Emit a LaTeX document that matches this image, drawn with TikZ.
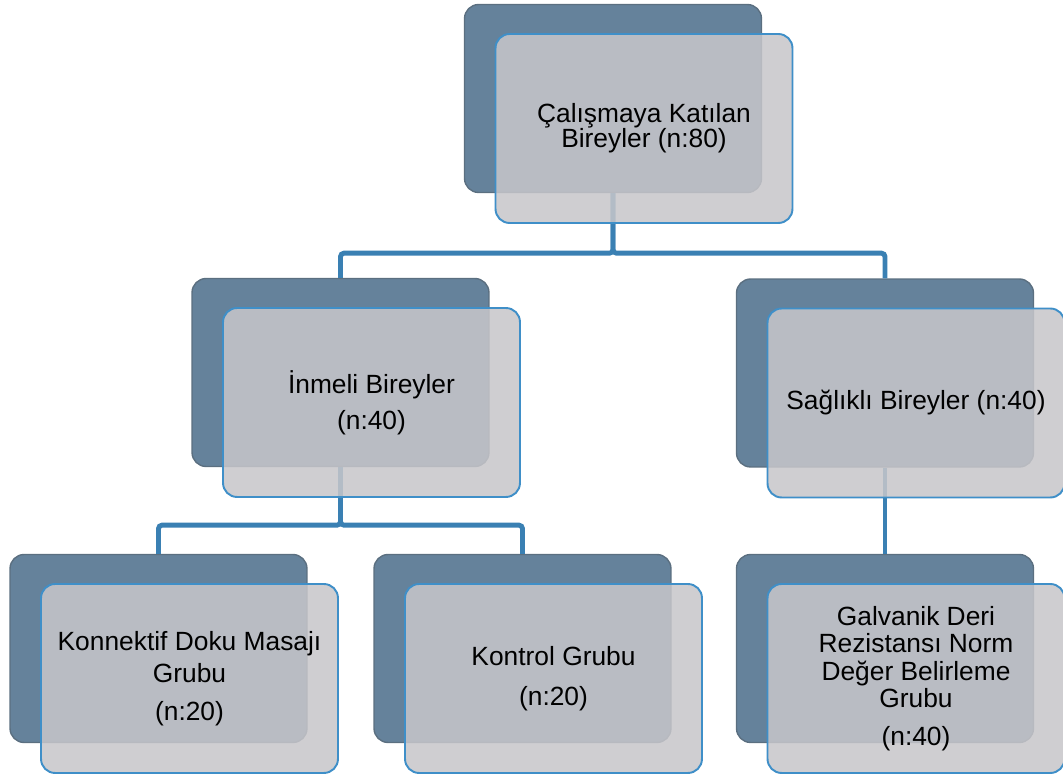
\documentclass[tikz,border=0pt]{standalone}
\usepackage{fontspec}
\setmainfont{Liberation Sans}
\usepackage{tikz}
\usetikzlibrary{positioning, calc}
\usepackage{xcolor}
\definecolor{backblue}{HTML}{65829B}
\definecolor{backedge}{HTML}{5B6F80}
\definecolor{frontgray}{HTML}{C7C6CA}
\definecolor{frontedge}{HTML}{3F8FC8}
\definecolor{linkblue}{HTML}{3A80B3}

\begin{document}
\begin{tikzpicture}[x=0.02cm, y=-0.02cm,
  backbox/.style={rectangle, rounded corners=8pt, draw=backedge, fill=backblue,
      line width=0.8pt, minimum width=5.94cm, minimum height=3.76cm},
  frontbox/.style={rectangle, rounded corners=8pt, draw=frontedge, fill=frontgray,
      fill opacity=0.86, text opacity=1, line width=1.1pt, align=center,
      minimum width=5.94cm, minimum height=3.78cm,
      font=\fontsize{15}{16}\selectfont},
  link/.style={draw=linkblue, line width=2.8pt, rounded corners=2pt}]
\useasboundingbox (0,0) rectangle (1063,776);

% back layer
\node[backbox] (bT) at (613,98.5) {};
\node[backbox] (bL) at (340.5,372.5) {};
\node[backbox] (bR) at (885,373) {};
\node[backbox] (bKDM) at (158.5,648.5) {};
\node[backbox] (bK) at (522.5,648.5) {};
\node[backbox] (bG) at (885,648.5) {};

% connectors
\draw[link] (bT.south) -- ++(0,60) -| (bL.north);
\draw[link] (bT.south) -- ++(0,60) -| (bR.north);
\draw[link] (bL.south) -- ++(0,58) -| (bKDM.north);
\draw[link] (bL.south) -- ++(0,58) -| (bK.north);
\draw[link] (bR.south) -- (bG.north);

% front layer
\node[frontbox] (fT) at ($(bT)+(31,30)$) {Çalışmaya Katılan\\[-1.8pt]Bireyler (n:80)};
\node[frontbox] (fL) at ($(bL)+(31,30)$) {İnmeli Bireyler\\[4.5pt](n:40)};
\node[frontbox] (fR) at ($(bR)+(31,30)$) {Sağlıklı Bireyler (n:40)};
\node[frontbox] (fKDM) at ($(bKDM)+(31,30)$) {Konnektif Doku Masajı\\[2pt]Grubu\\[5.5pt](n:20)};
\node[frontbox] (fK) at ($(bK)+(31,30)$) {Kontrol Grubu\\[6.5pt](n:20)};
\node[frontbox] (fG) at ($(bG)+(31,30)$) {Galvanik Deri\\[-0.5pt]Rezistansı Norm\\[-0.5pt]Değer Belirleme\\[-0.5pt]Grubu\\[5.5pt](n:40)};
\end{tikzpicture}
\end{document}
